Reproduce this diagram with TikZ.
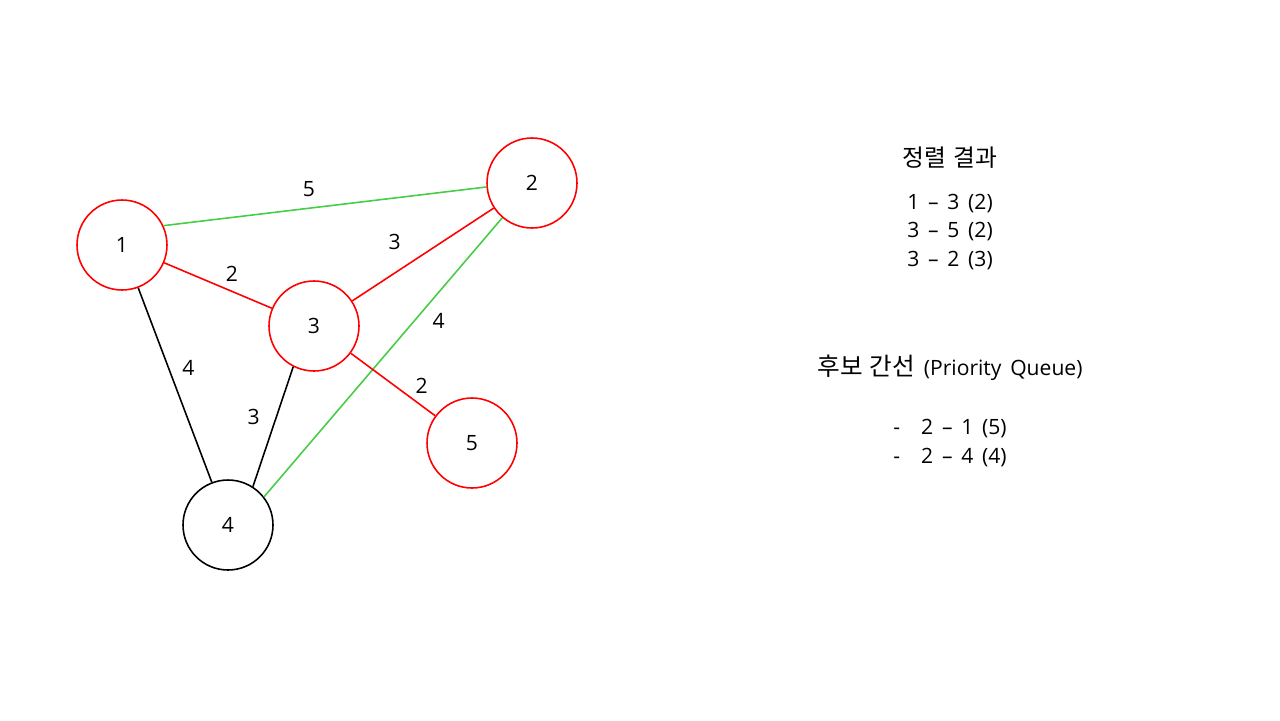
\documentclass[tikz,border=0pt]{standalone}
\usepackage{fontspec}
\setmainfont[WordSpace=1.6]{Open Sans}
\newfontfamily\krfont[WordSpace=1.3]{Noto Sans CJK KR}
\usepackage{xcolor}
\usetikzlibrary{positioning}
\definecolor{treered}{RGB}{255,0,0}
\definecolor{candgreen}{RGB}{70,205,70}

\begin{document}
\begin{tikzpicture}[x=0.02cm, y=-0.02cm, font=\fontsize{12}{16.4}\selectfont,
    vtx/.style={circle, draw, line width=0.9pt, minimum size=1.8cm, inner sep=0pt},
    picked/.style={vtx, draw=treered},
    wt/.style={inner sep=1pt},
    treeedge/.style={draw=treered, line width=0.9pt},
    candedge/.style={draw=candgreen, line width=0.9pt},
    restedge/.style={draw=black, line width=0.9pt}]
    \useasboundingbox (0,0) rectangle (1280,720);

    % Đỉnh của đồ thị
    \node[picked] (v1) at (122,245) {1};
    \node[picked] (v2) at (532,183) {2};
    \node[picked] (v3) at (314,326) {3};
    \node[picked] (v5) at (472,443) {5};
    \node[vtx] (v4) at (228,525) {4};

    % Cạnh
    \draw[candedge] (v1.25) -- node[wt, pos=.45, above=5pt] {5} (v2.185);
    \draw[treeedge] (v1) -- node[wt, pos=.55, above right=2pt and 0pt] {2} (v3);
    \draw[treeedge] (v3) -- node[wt, pos=.3, above=12pt] {3} (v2);
    \draw[candedge] (v2) -- node[wt, pos=.37, right=9pt] {4} (v4.38);
    \draw[restedge] (v1) -- node[wt, pos=.41, right=6.5pt] {4} (v4);
    \draw[restedge] (v3.243) -- node[wt, pos=.42, left=8pt] {3} (v4.57);
    \draw[treeedge] (v3) -- node[wt, pos=.84, above=5.5pt] {2} (v5);

    % Bảng kết quả
    \node (sorttitle) at (950,158) {\krfont\fontsize{13.5}{16}\selectfont 정렬 결과};
    \node[align=center] (sortlist) at (950,232) {1 – 3 (2)\\3 – 5 (2)\\3 – 2 (3)};
    \node (candtitle) at (950,368) {{\krfont\fontsize{14}{16}\selectfont 후보 간선} (Priority Queue)};
    \node[align=center] (candlist) at (950,443) {-\hspace{1em}2 – 1 (5)\\-\hspace{1em}2 – 4 (4)};
\end{tikzpicture}
\end{document}
